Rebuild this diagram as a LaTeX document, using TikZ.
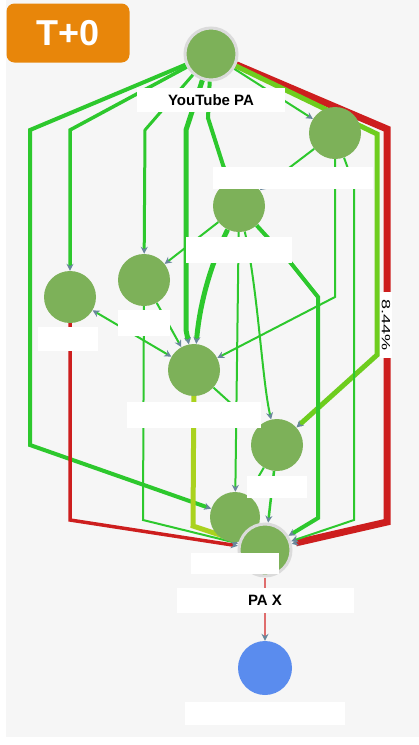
\documentclass[tikz,border=0pt]{standalone}
\usepackage{fontspec}
\setmainfont{Liberation Sans}
\usetikzlibrary{positioning,arrows.meta}

\definecolor{bggray}{RGB}{246,246,246}
\definecolor{nodegreen}{RGB}{125,177,89}
\definecolor{edgegreen}{RGB}{45,200,45}
\definecolor{limegreen}{RGB}{110,205,30}
\definecolor{olivegreen}{RGB}{170,210,30}
\definecolor{edgered}{RGB}{205,30,30}
\definecolor{tipgray}{RGB}{105,135,155}
\definecolor{badgeorange}{RGB}{232,134,10}
\definecolor{nodeblue}{RGB}{90,140,238}

\pgfdeclarelayer{bg}
\pgfdeclarelayer{edges}
\pgfsetlayers{bg,edges,main}

\begin{document}
\begin{tikzpicture}[
        x=1pt, y=-1pt,
        >={Stealth[length=7pt,width=7pt,color=tipgray]},
        gnode/.style={
            circle,
            fill=nodegreen,
            minimum size=52pt,
            inner sep=0pt
        },
        hub/.style={gnode, draw=black!14, line width=3pt},
        lbl/.style={
            rectangle,
            fill=white,
            minimum height=24pt,
            inner sep=0pt,
            font=\bfseries\fontsize{15}{18}\selectfont
        },
        edge/.style={->, draw=edgegreen, line width=2pt},
        redge/.style={->, draw=edgered}
    ]

    \useasboundingbox (0,0) rectangle (419,745);
    \begin{pgfonlayer}{bg}
        \fill[white] (0,0) rectangle (419,745);
        \fill[bggray] (6,0) rectangle (419,737);
    \end{pgfonlayer}

    % Badge
    \node (badge) [rectangle, rounded corners=8pt, fill=badgeorange,
        minimum width=123pt, minimum height=59pt, text=white,
        font=\bfseries\fontsize{36}{40}\selectfont] at (68,33) {T+0};

    % Nodes
    \node (yt) [hub] at (211,54) {};
    \node (n1) [gnode] at (335,133) {};
    \node (n2) [gnode] at (239,206) {};
    \node (n3) [gnode] at (144,280) {};
    \node (n4) [gnode] at (70,297) {};
    \node (n5) [gnode] at (194,370) {};
    \node (n6) [gnode] at (277,445) {};
    \node (n7) [gnode, minimum size=50pt] at (235,517) {};
    \node (pax) [hub] at (265,550) {};
    \node (blue) [circle, fill=nodeblue, minimum size=54pt] at (265,668) {};

    % Labels
    \node (ytlbl) [lbl, minimum width=148pt, below=6pt of yt] {YouTube PA};
    \node (n1lbl) [lbl, minimum width=160pt, minimum height=22pt, below=8pt of n1, xshift=-42pt] {};
    \node (n2lbl) [lbl, minimum width=106pt, minimum height=26pt, below=5pt of n2] {};
    \node (n3lbl) [lbl, minimum width=52pt, minimum height=26pt, below=4pt of n3] {};
    \node (n4lbl) [lbl, minimum width=60pt, below=4pt of n4, xshift=-2pt] {};
    \node (n5lbl) [lbl, minimum width=134pt, minimum height=26pt, below=6pt of n5] {};
    \node (n6lbl) [lbl, minimum width=60pt, minimum height=22pt, below=5pt of n6] {};
    \node (n7lbl) [lbl, minimum width=88pt, minimum height=21pt, below=11pt of n7] {};
    \node (paxlbl) [lbl, minimum width=177pt, minimum height=25pt, below=10pt of pax] {PA X};
    \node (bluelbl) [lbl, minimum width=160pt, minimum height=23pt, below=7pt of blue] {};

    \node (pct) [fill=white, inner xsep=7pt, inner ysep=2pt, rotate=-90,
        font=\fontsize{12}{14}\selectfont] at (386,325) {\scalebox{1.5}[1]{8.44\%}};

    % Arrows
    \begin{pgfonlayer}{edges}
    \draw[edge, line width=4pt] (yt) -- (30,130) -- (30,445) -- (n7);
    \draw[edge, line width=3.5pt] (yt) -- (70,130) -- (n4);
    \draw[edge, line width=3pt] (yt) -- (145,130) -- (n3);
    \draw[edge, line width=5pt] (yt) -- (186,130) -- (186,330) -- (n5);
    \draw[edge, line width=4pt] (yt) -- (208,118) -- (223,165) -- (n2);
    \draw[edge] (yt) -- (n1);
    \draw[redge, line width=7pt] (yt) -- (387,129) -- (387,522) -- (pax);
    \draw[edge, draw=limegreen, line width=5pt] (yt) -- (377,134) -- (377,355) -- (n6);

    \draw[edge] (n1) -- (n2);
    \draw[edge] (n1) -- (335,297) -- (n5);
    \draw[edge] (n1) -- (354,185) -- (354,520) -- (pax);

    \draw[edge, line width=4pt] (n2) -- (290,262) -- (318,297) -- (318,518) -- (pax);
    \draw[edge, line width=5pt] (n2) .. controls (212,262) and (200,300) .. (n5);
    \draw[edge] (n2) -- (n3);
    \draw[edge] (n2) -- (n7);
    \draw[edge] (n2) .. controls (258,290) and (262,380) .. (n6);

    \draw[edge] (n3) -- (n5);
    \draw[edge] (n3) -- (143,520) -- (pax);

    \draw[redge, line width=3.5pt] (n4) -- (70,520) -- (pax);
    \draw[edge, <->] (n4) -- (n5);

    \draw[edge, draw=olivegreen, line width=5pt] (n5) -- (193,526) -- (pax);
    \draw[edge] (n5) -- (n6);

    \draw[edge] (n6) -- (n7);
    \draw[edge, line width=2.5pt] (n6) -- (pax);

    \draw[edge, draw=edgered!65, line width=1.5pt] (pax) -- (blue);
    \end{pgfonlayer}

    \end{tikzpicture}
\end{document}
